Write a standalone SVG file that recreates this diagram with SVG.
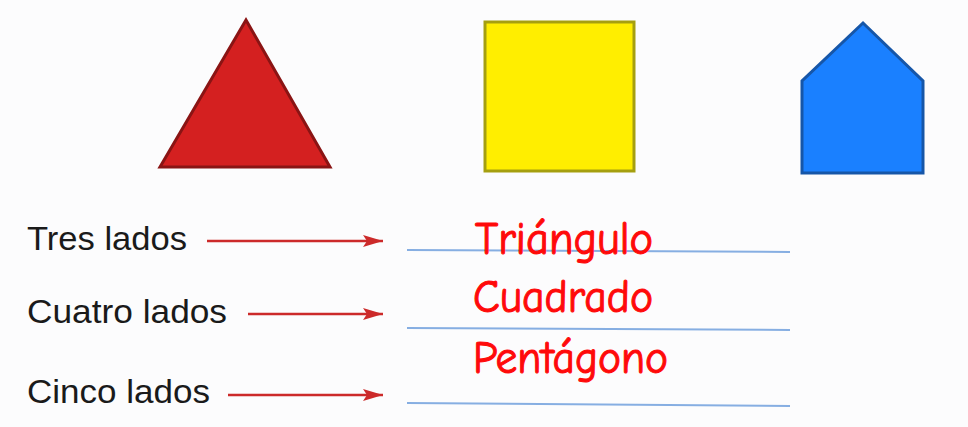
<svg xmlns="http://www.w3.org/2000/svg" width="968" height="427" viewBox="0 0 968 427">
  <style>
    .label { font-family: "Liberation Sans", Arial, sans-serif; font-size: 33px; fill: #1a1a1a; }
    .answer { font-family: "Comic Sans MS", "Comic Neue", "Open Sans", "DejaVu Sans", sans-serif; font-size: 46px; fill: #ff0a0a; stroke: #ff0a0a; stroke-width: 1.1; }
    .arrow { stroke: #cc2a2a; stroke-width: 2.5; fill: none; marker-end: url(#head); }
    .rule { stroke: #86aee2; stroke-width: 2; }
  </style>
  <defs>
    <marker id="head" viewBox="0 0 20 12" refX="20" refY="6" markerWidth="20" markerHeight="12" markerUnits="userSpaceOnUse" orient="auto">
      <path d="M0,0 L20,6 L0,12 L4,6 Z" fill="#cc2a2a"/>
    </marker>
  </defs>
  <rect width="968" height="427" fill="#fcfcfd"/>

  <g id="triangle">
    <polygon points="246,20 330,167 160,167" fill="#d42020" stroke="#8a1414" stroke-width="3" stroke-linejoin="miter"/>
  </g>
  <g id="square">
    <rect x="485" y="22" width="149" height="149" fill="#ffee00" stroke="#a59f10" stroke-width="3"/>
  </g>
  <g id="pentagon">
    <polygon points="863,23 923,81 923,173 802,173 802,81" fill="#1a80ff" stroke="#1656a8" stroke-width="3"/>
  </g>

  <g id="label-tres">
    <text class="label" x="27" y="250" textLength="160" lengthAdjust="spacingAndGlyphs">Tres lados</text>
  </g>
  <g id="label-cuatro">
    <text class="label" x="27" y="323" textLength="200" lengthAdjust="spacingAndGlyphs">Cuatro lados</text>
  </g>
  <g id="label-cinco">
    <text class="label" x="27" y="403" textLength="183" lengthAdjust="spacingAndGlyphs">Cinco lados</text>
  </g>

  <g id="connectors">
    <line class="arrow" x1="207" y1="241" x2="383" y2="241"/>
    <line class="arrow" x1="248" y1="314" x2="383" y2="314"/>
    <line class="arrow" x1="228" y1="395" x2="383" y2="395"/>
  </g>

  <g id="answer-lines">
    <line class="rule" x1="407" y1="250" x2="790" y2="252"/>
    <line class="rule" x1="407" y1="328" x2="790" y2="330"/>
    <line class="rule" x1="407" y1="403" x2="790" y2="406"/>
  </g>

  <g id="answer-triangulo">
    <text class="answer" x="475" y="254" textLength="178" lengthAdjust="spacingAndGlyphs">Triángulo</text>
  </g>
  <g id="answer-cuadrado">
    <text class="answer" x="473" y="312" textLength="180" lengthAdjust="spacingAndGlyphs">Cuadrado</text>
  </g>
  <g id="answer-pentagono">
    <text class="answer" x="473" y="373" textLength="195" lengthAdjust="spacingAndGlyphs">Pentágono</text>
  </g>
</svg>
